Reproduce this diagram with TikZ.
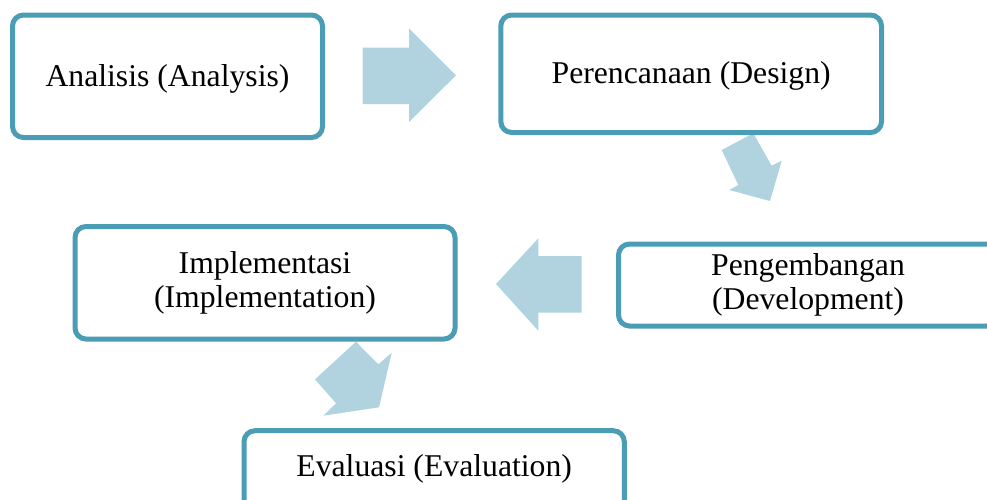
\documentclass[tikz,border=0pt]{standalone}
\usepackage{fontspec}
\setmainfont{Liberation Serif}
\definecolor{boxline}{RGB}{74,157,181}
\definecolor{arrowfill}{RGB}{177,211,223}
\tikzset{
  stagebox/.style={draw=boxline, line width=5pt, rounded corners=11pt, fill=white,
    align=center, inner sep=0pt, font=\fontsize{31.7}{33.5}\selectfont},
  oneline/.style={text height=22pt, text depth=2.5pt},
  blockarrow/.style={fill=arrowfill, draw=none}
}
\begin{document}
\begin{tikzpicture}[x=1pt,y=-1pt]
\useasboundingbox (0,0) rectangle (987,499);
\clip (0,0) rectangle (987,499);
% block arrows
\fill[blockarrow] (362.7,47.7) -- (409,47.7) -- (409,28.3) -- (456,75.3) -- (409,122) -- (409,104) -- (362.7,104) -- cycle;
\fill[blockarrow] (721.7,150) -- (753.3,133.3) -- (771.7,165.7) -- (781.7,160.7) -- (770,201) -- (729.3,190) -- (738.3,185) -- cycle;
\fill[blockarrow] (496,284) -- (538.3,238.3) -- (538.3,256) -- (581.7,256) -- (581.7,312.7) -- (538.3,312.7) -- (538.3,330.7) -- cycle;
\fill[blockarrow] (356,341.7) -- (378.3,364.3) -- (391.7,352.7) -- (379,407.3) -- (323.3,415.7) -- (336,403.3) -- (315,379.3) -- cycle;
% boxes
\node[stagebox, oneline, minimum width=310pt, minimum height=122.5pt] (ana) at (167.5,76.25) {Analisis (Analysis)};
\node[stagebox, oneline, minimum width=380.7pt, minimum height=117.5pt] (des) at (691.15,73.75) {Perencanaan (Design)};
\node[stagebox, minimum width=379pt, minimum height=82pt] (dev) at (808,285) {Pengembangan\\(Development)};
\node[stagebox, minimum width=380pt, minimum height=112.5pt] (imp) at (265,282.75) {Implementasi\\(Implementation)};
\node[stagebox, text height=22pt, text depth=30pt, minimum width=380.3pt, minimum height=100pt] (eva) at (434.15,480.7) {Evaluasi (Evaluation)};
\end{tikzpicture}
\end{document}
